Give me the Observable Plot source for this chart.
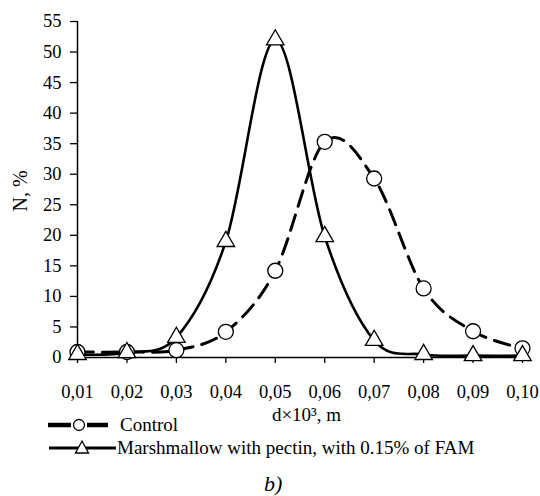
<!DOCTYPE html>
<html>
<head>
<meta charset="utf-8">
<script src="https://cdn.jsdelivr.net/npm/d3@7"></script>
<script src="https://cdn.jsdelivr.net/npm/@observablehq/plot@0.6"></script>
<style>
  body { margin: 0; background: #fff; }
  #wrap { position: relative; width: 540px; height: 496px; font-family: "Times New Roman", "Liberation Serif", "DejaVu Serif", serif; color: #000; }
  .leg { position: absolute; font-size: 19px; white-space: nowrap; }
  .leg svg { position: absolute; left: 0; top: 0; }
</style>
</head>
<body>
<div id="wrap">
  <div id="chart"></div>
  <div class="leg" style="left:0;top:414px;width:540px;height:24px;">
    <svg width="120" height="24"><line x1="48" y1="11" x2="71" y2="11" stroke="#000" stroke-width="4.5"/><line x1="87" y1="11" x2="108" y2="11" stroke="#000" stroke-width="4.5"/><circle cx="79" cy="11" r="5.5" fill="#fff" stroke="#000" stroke-width="1.3"/></svg>
    <span style="position:absolute;left:120px;top:0px;">Control</span>
  </div>
  <div class="leg" style="left:0;top:437px;width:540px;height:24px;">
    <svg width="120" height="24"><line x1="49" y1="11" x2="116" y2="11" stroke="#000" stroke-width="3"/><path d="M82,4 L88.5,16 L75.5,16 Z" fill="#fff" stroke="#000" stroke-width="1.3"/></svg>
    <span style="position:absolute;left:117px;top:0px;">Marshmallow with pectin, with 0.15% of FAM</span>
  </div>
  <div class="leg" style="left:264px;top:471px;font-size:22px;font-style:italic;">b)</div>
</div>
<script>
const diameters = [0.01, 0.02, 0.03, 0.04, 0.05, 0.06, 0.07, 0.08, 0.09, 0.10];
const controlValues = [0.9, 0.9, 1.2, 4.2, 14.2, 35.3, 29.3, 11.3, 4.3, 1.5];
const pectinValues = [0.5, 0.8, 3.3, 19.0, 52.0, 19.8, 2.8, 0.5, 0.3, 0.3];
const yTicks = [0, 5, 10, 15, 20, 25, 30, 35, 40, 45, 50, 55];
const xLabel = "d×10³, m";
const yLabel = "N, %";

const control = diameters.map((d, i) => ({d, v: controlValues[i]}));
const pectin = diameters.map((d, i) => ({d, v: pectinValues[i]}));

const fmt = d => d.toFixed(2).replace(".", ",");
const serif = "'Times New Roman', 'Liberation Serif', 'DejaVu Serif', serif";

const plot = Plot.plot({
  width: 540,
  height: 430,
  marginLeft: 77,
  marginRight: 13,
  marginTop: 21,
  marginBottom: 73,
  style: {fontFamily: serif, fontSize: "18.5px", color: "#000", background: "#fff"},
  x: {domain: [0.01, 0.10], range: [77, 522]},
  y: {domain: [0, 55]},
  marks: [
    Plot.axisY({ticks: yTicks, tickSize: 7, tickPadding: 9, label: null, stroke: "#000", strokeWidth: 1.3}),
    Plot.axisX({ticks: diameters, tickSize: 6, tickPadding: 21, tickFormat: fmt, label: null, stroke: "#000", strokeWidth: 1.3}),
    Plot.ruleX([0.01], {stroke: "#000", strokeWidth: 1.5}),
    Plot.ruleY([0], {stroke: "#000", strokeWidth: 1.5}),
    Plot.line(control, {x: "d", y: "v", curve: "cardinal", stroke: "#000", strokeWidth: 3, strokeDasharray: "16,9"}),
    Plot.line(pectin, {x: "d", y: "v", curve: "cardinal", stroke: "#000", strokeWidth: 2.6}),
    Plot.dot(control, {x: "d", y: "v", r: 7.5, fill: "#fff", stroke: "#000", strokeWidth: 1.3}),
    Plot.dot(pectin, {x: "d", y: "v", symbol: "triangle", r: 6.5, fill: "#fff", stroke: "#000", strokeWidth: 1.3}),
    Plot.text([xLabel], {frameAnchor: "bottom", dy: 63, dx: 4, text: d => d, fontSize: 19}),
    Plot.text([yLabel], {frameAnchor: "left", dx: -57, dy: 22, rotate: -90, text: d => d, fontSize: 20})
  ]
});
document.getElementById("chart").appendChild(plot);
</script>
</body>
</html>
